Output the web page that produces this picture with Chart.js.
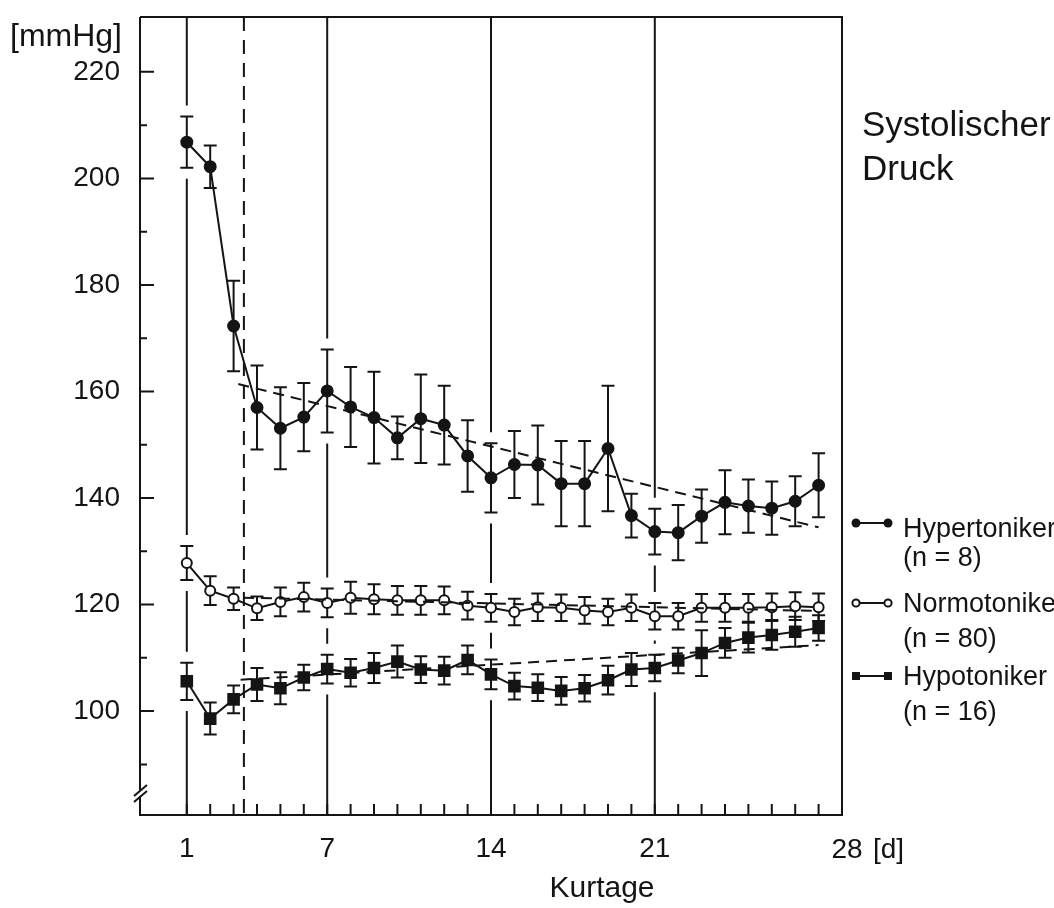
<!DOCTYPE html>
<html><head><meta charset="utf-8">
<script src="https://cdn.jsdelivr.net/npm/chart.js@4.4.1/dist/chart.umd.min.js"></script>
<style>html,body{margin:0;padding:0;background:#fff}</style>
</head><body>
<canvas id="c" width="1054" height="908"></canvas>
<script>
// ---- data ----
const days = [1,2,3,4,5,6,7,8,9,10,11,12,13,14,15,16,17,18,19,20,21,22,23,24,25,26,27,28];
const hyper    = [206.8,202.2,172.3,157.0,153.1,155.2,160.1,157.1,155.1,151.3,154.9,153.7,147.9,143.8,146.3,146.2,142.7,142.7,149.3,136.7,133.7,133.5,136.6,139.2,138.5,138.1,139.4,142.4];
const hyperErr = [4.8,4.0,8.5,7.9,7.7,6.4,7.8,7.5,8.6,4.0,8.3,7.4,6.7,6.5,6.3,7.4,8.0,8.0,11.8,4.1,4.3,5.2,5.0,6.0,5.0,5.0,4.7,6.0];
const normo    = [127.8,122.6,121.1,119.3,120.5,121.4,120.3,121.3,121.0,120.8,120.8,120.8,119.8,119.4,118.6,119.5,119.4,118.9,118.6,119.4,117.8,117.8,119.4,119.4,119.4,119.5,119.7,119.5];
const normoErr = [3.2,2.7,2.1,2.2,2.7,2.7,2.7,3.0,2.8,2.7,2.7,2.6,2.6,2.6,2.5,2.6,2.5,2.5,2.5,2.5,2.5,2.5,2.6,2.6,2.6,2.6,2.6,2.6];
const hypo     = [105.6,98.6,102.2,105.0,104.3,106.3,107.9,107.2,108.1,109.3,107.8,107.6,109.6,106.9,104.7,104.4,103.8,104.3,105.8,107.8,108.1,109.5,110.9,112.8,113.8,114.3,114.9,115.6];
const hypoErr  = [3.5,3.0,2.6,3.1,3.0,2.4,2.7,2.6,2.8,3.0,2.5,2.6,2.7,2.8,2.5,2.5,2.6,2.5,2.7,3.1,2.5,2.4,4.3,2.8,2.8,2.8,2.8,2.4];
const hyperTrendX = [3.2, 28];   const hyperTrendY = [161.4, 134.5];
const normoTrendX = [3.4, 28];   const normoTrendY = [121.3, 118.8];
const hypoTrendX  = [3.3, 28];   const hypoTrendY  = [105.9, 112.4];
const xLabelDays = [1, 7, 14, 21];
const xEndLabel = '28';
const xUnit = '[d]';
const xTitle = 'Kurtage';
const yLabelValues = [100, 120, 140, 160, 180, 200, 220];
const yMinorValues = [90, 110, 130, 150, 170, 190, 210];
const yUnit = '[mmHg]';
const solidVDays = [1, 7, 14, 21];
const dashedVDay = 3.44;
const titleLines = ['Systolischer', 'Druck'];
const seriesNames = ['Hypertoniker', 'Normotoniker', 'Hypotoniker'];
const seriesN = ['(n = 8)', '(n = 80)', '(n = 16)'];

const INK = '#141414';
const FONT = '"Liberation Sans", Arial, Helvetica, sans-serif';
const pts = (xs, ys) => xs.map((x, i) => ({x: x, y: ys[i]}));
const seriesVals = [hyper, normo, hypo];
const seriesErrs = [hyperErr, normoErr, hypoErr];

const decor = {
  id: 'decor',
  beforeDatasetsDraw(chart) {
    const {ctx, chartArea: a, scales: {x, y}} = chart;
    ctx.save();
    ctx.strokeStyle = INK; ctx.lineWidth = 2;
    solidVDays.forEach(d => {
      const px = x.getPixelForValue(d);
      const i = days.indexOf(d);
      const gaps = [];
      if (i >= 0) seriesVals.forEach((s, k) => {
        gaps.push([y.getPixelForValue(s[i] + seriesErrs[k][i]) - 11, y.getPixelForValue(s[i] - seriesErrs[k][i]) + 11]);
      });
      gaps.sort((p, q) => p[0] - q[0]);
      let cur = a.top;
      ctx.beginPath();
      gaps.forEach(g => { if (g[0] > cur) { ctx.moveTo(px, cur); ctx.lineTo(px, g[0]); } cur = Math.max(cur, g[1]); });
      if (cur < a.bottom) { ctx.moveTo(px, cur); ctx.lineTo(px, a.bottom); }
      ctx.stroke();
    });
    const dx = x.getPixelForValue(dashedVDay);
    ctx.setLineDash([14, 9]);
    ctx.beginPath(); ctx.moveTo(dx, a.top); ctx.lineTo(dx, a.bottom); ctx.stroke();
    ctx.setLineDash([]);
    ctx.beginPath();
    ctx.moveTo(a.left, a.top); ctx.lineTo(a.right, a.top); ctx.lineTo(a.right, a.bottom);
    ctx.lineTo(a.left, a.bottom); ctx.lineTo(a.left, a.top);
    ctx.stroke();
    ctx.lineWidth = 2;
    seriesVals.forEach((s, k) => {
      s.forEach((v, i) => {
        const px = x.getPixelForValue(days[i]);
        const t = y.getPixelForValue(v + seriesErrs[k][i]);
        const b = y.getPixelForValue(v - seriesErrs[k][i]);
        ctx.beginPath();
        ctx.moveTo(px, t); ctx.lineTo(px, b);
        ctx.moveTo(px - 6.5, t); ctx.lineTo(px + 6.5, t);
        ctx.moveTo(px - 6.5, b); ctx.lineTo(px + 6.5, b);
        ctx.stroke();
      });
    });
    ctx.restore();
  },
  afterDraw(chart) {
    const {ctx, chartArea: a, scales: {x, y}} = chart;
    ctx.save();
    ctx.strokeStyle = INK; ctx.fillStyle = INK; ctx.lineWidth = 2;
    ctx.beginPath();
    yLabelValues.forEach(v => { const py = y.getPixelForValue(v); ctx.moveTo(a.left, py); ctx.lineTo(a.left + 14, py); });
    yMinorValues.forEach(v => { const py = y.getPixelForValue(v); ctx.moveTo(a.left, py); ctx.lineTo(a.left + 7, py); });
    days.forEach(d => { const px = x.getPixelForValue(d); ctx.moveTo(px, a.bottom); ctx.lineTo(px, a.bottom - 11); });
    ctx.stroke();
    ctx.fillStyle = '#fff';
    ctx.fillRect(a.left - 3, 790, 6, 6);
    ctx.fillStyle = INK;
    ctx.beginPath();
    ctx.moveTo(a.left - 6, 796); ctx.lineTo(a.left + 7, 785);
    ctx.moveTo(a.left - 6, 802); ctx.lineTo(a.left + 7, 791);
    ctx.stroke();
    ctx.textBaseline = 'alphabetic';
    ctx.textAlign = 'left';
    ctx.font = '32px ' + FONT;
    ctx.fillText(yUnit, 10, 46);
    ctx.font = '35px ' + FONT;
    ctx.fillText(titleLines[0], 862, 136);
    ctx.fillText(titleLines[1], 862, 180);
    ctx.font = '28px ' + FONT;
    const endX = a.right;
    ctx.textAlign = 'center';
    ctx.fillText(xEndLabel, endX + 5, 858);
    ctx.textAlign = 'left';
    ctx.fillText(xUnit, endX + 31, 858);
    ctx.font = '30px ' + FONT;
    ctx.textAlign = 'center';
    ctx.fillText(xTitle, 602, 897);
    ctx.textAlign = 'left';
    ctx.font = '27px ' + FONT;
    const lx = 903;
    const rows = [[523, 537, 566], [603, 612, 647], [676, 685, 720]];
    rows.forEach((r, k) => {
      ctx.fillText(seriesNames[k], lx, r[1]);
      ctx.fillText(seriesN[k], lx, r[2]);
      const sy = r[0];
      ctx.beginPath(); ctx.moveTo(856, sy); ctx.lineTo(888, sy); ctx.lineWidth = 2; ctx.stroke();
      [856, 888].forEach(sx => {
        ctx.beginPath();
        if (k === 0) { ctx.arc(sx, sy, 4.5, 0, 2 * Math.PI); ctx.fill(); }
        else if (k === 1) { ctx.arc(sx, sy, 3.6, 0, 2 * Math.PI); ctx.fillStyle = '#fff'; ctx.fill(); ctx.fillStyle = INK; ctx.stroke(); }
        else { ctx.fillRect(sx - 4, sy - 4, 8, 8); }
      });
    });
    ctx.restore();
  }
};

const lineDs = (label, data, style, radius, bg) => ({
  label, data, showLine: true, borderColor: INK, borderWidth: 2,
  pointStyle: style, pointRadius: radius, pointBackgroundColor: bg, pointBorderColor: INK,
  pointBorderWidth: 2, fill: false, tension: 0
});
const trendDs = (label, data) => ({
  label, data, showLine: true, borderColor: INK, borderWidth: 2, borderDash: [11, 7],
  pointRadius: 0, fill: false, tension: 0
});

new Chart(document.getElementById('c'), {
  type: 'scatter',
  data: {
    datasets: [
      trendDs('Hypertoniker Trend', pts(hyperTrendX, hyperTrendY)),
      trendDs('Normotoniker Trend', pts(normoTrendX, normoTrendY)),
      trendDs('Hypotoniker Trend', pts(hypoTrendX, hypoTrendY)),
      lineDs(seriesNames[0], pts(days, hyper), 'circle', 5.5, INK),
      lineDs(seriesNames[1], pts(days, normo), 'circle', 5, '#fff'),
      lineDs(seriesNames[2], pts(days, hypo), 'rect', 7.5, INK)
    ]
  },
  options: {
    responsive: false, animation: false, devicePixelRatio: 1,
    layout: { padding: { top: 17, right: 212, bottom: 0, left: 0 } },
    plugins: { legend: { display: false }, tooltip: { enabled: false } },
    scales: {
      x: {
        type: 'linear', min: -1, max: 29,
        afterBuildTicks: s => { s.ticks = days.map(v => ({ value: v })); },
        afterFit: s => { s.height = 93; s.paddingLeft = 0; s.paddingRight = 0; },
        grid: { display: false, drawTicks: false }, border: { display: false },
        ticks: { autoSkip: false, maxRotation: 0, padding: 17, color: INK,
          font: { family: FONT, size: 28 },
          callback: v => xLabelDays.includes(v) ? String(v) : '' }
      },
      y: {
        type: 'linear', min: 80.5, max: 230.3,
        afterBuildTicks: s => { s.ticks = yLabelValues.map(v => ({ value: v })); },
        afterFit: s => { s.width = 140; s.paddingTop = 0; s.paddingBottom = 0; },
        grid: { display: false, drawTicks: false }, border: { display: false },
        ticks: { padding: 20, color: INK, font: { family: FONT, size: 28 },
          callback: v => String(v) }
      }
    }
  },
  plugins: [decor]
});
</script>
</body></html>
